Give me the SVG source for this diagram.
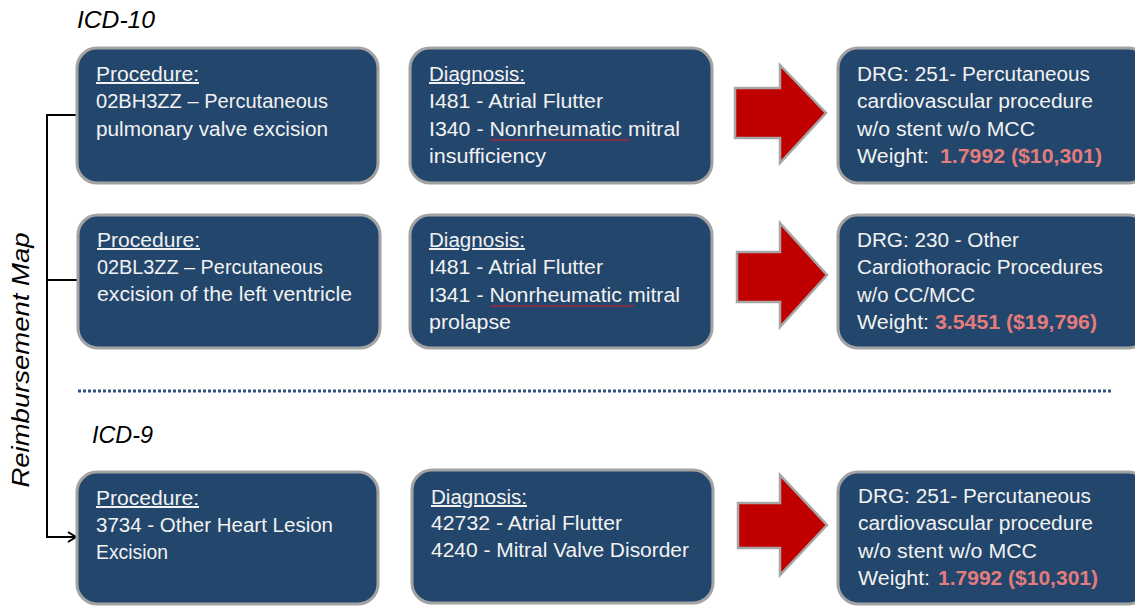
<svg xmlns="http://www.w3.org/2000/svg" width="1135" height="606" viewBox="0 0 1135 606">
<style>
.box{fill:#23466c;stroke:#a3a3a3;stroke-width:3}
.arr{fill:#c00000;stroke:#a6a6a6;stroke-width:2.5;stroke-linejoin:miter}
.t{font-family:"Liberation Sans",Arial,sans-serif;font-size:20px;fill:#f2f2f2}
.u{text-decoration:underline}
.r{fill:#e37c7c;font-weight:bold}
.h{font-family:"Liberation Sans",Arial,sans-serif;font-size:24px;font-style:italic;fill:#000}
.sq{fill:none;stroke:#d02020;stroke-width:1}
.con{fill:none;stroke:#000;stroke-width:2}
</style>
<defs>
<marker id="open" markerWidth="12" markerHeight="12" refX="10" refY="6" orient="auto" markerUnits="userSpaceOnUse">
<path d="M2,1 L10,6 L2,11" fill="none" stroke="#000" stroke-width="2"/>
</marker>
</defs>

<text class="h" x="77" y="28" textLength="78" lengthAdjust="spacingAndGlyphs">ICD-10</text>
<text class="h" x="92" y="443" textLength="61" lengthAdjust="spacingAndGlyphs">ICD-9</text>
<text class="h" transform="translate(29,360) rotate(-90)" text-anchor="middle" font-size="22" textLength="255" lengthAdjust="spacingAndGlyphs">Reimbursement Map</text>

<g id="connectors">
<path class="con" d="M77,115 H47 V537 H76" marker-end="url(#open)"/>
<path class="con" d="M47,280 H77"/>
<line x1="78" y1="391" x2="1112" y2="391" stroke="#2e5584" stroke-width="3" stroke-dasharray="3 2"/>
</g>

<g id="proc1">
<rect class="box" x="77" y="48" width="301" height="135" rx="20"/>
<text class="t u" x="96" y="81" textLength="103" lengthAdjust="spacingAndGlyphs">Procedure:</text>
<text class="t" x="96" y="108" textLength="232" lengthAdjust="spacingAndGlyphs">02BH3ZZ – Percutaneous</text>
<text class="t" x="96" y="136" textLength="232" lengthAdjust="spacingAndGlyphs">pulmonary valve excision</text>
</g>
<g id="diag1">
<rect class="box" x="410" y="48" width="302" height="135" rx="20"/>
<text class="t u" x="429" y="81" textLength="96" lengthAdjust="spacingAndGlyphs">Diagnosis:</text>
<text class="t" x="429" y="108" textLength="174" lengthAdjust="spacingAndGlyphs">I481 - Atrial Flutter</text>
<text class="t" x="429" y="136" textLength="251" lengthAdjust="spacingAndGlyphs">I340 - Nonrheumatic mitral</text>
<path class="sq" d="M490,141 l2,-2 l2,2 l2,-2 l2,2 l2,-2 l2,2 l2,-2 l2,2 l2,-2 l2,2 l2,-2 l2,2 l2,-2 l2,2 l2,-2 l2,2 l2,-2 l2,2 l2,-2 l2,2 l2,-2 l2,2 l2,-2 l2,2 l2,-2 l2,2 l2,-2 l2,2 l2,-2 l2,2 l2,-2 l2,2 l2,-2 l2,2 l2,-2 l2,2 l2,-2 l2,2 l2,-2 l2,2 l2,-2 l2,2 l2,-2 l2,2 l2,-2 l2,2 l2,-2 l2,2 l2,-2 l2,2 l2,-2 l2,2 l2,-2 l2,2 l2,-2 l2,2 l2,-2 l2,2 l2,-2 l2,2 l2,-2 l2,2 l2,-2 l2,2 l2,-2 l2,2 l2,-2 l2,2 l2,-2 l2,2"/>
<text class="t" x="429" y="163" textLength="117" lengthAdjust="spacingAndGlyphs">insufficiency</text>
</g>
<g id="arrow1">
<path class="arr" d="M735,88 H780 V65 L826,113 L780,163 V138 H735 Z"/>
</g>
<g id="drg1">
<rect class="box" x="838" y="48" width="310" height="135" rx="20"/>
<text class="t" x="857" y="81" textLength="233" lengthAdjust="spacingAndGlyphs">DRG:  251- Percutaneous</text>
<text class="t" x="857" y="108" textLength="236" lengthAdjust="spacingAndGlyphs">cardiovascular procedure</text>
<text class="t" x="857" y="136" textLength="178" lengthAdjust="spacingAndGlyphs">w/o stent w/o MCC</text>
<text class="t" x="857" y="163" textLength="72" lengthAdjust="spacingAndGlyphs">Weight:</text>
<text class="t r" x="940" y="163" textLength="162" lengthAdjust="spacingAndGlyphs">1.7992 ($10,301)</text>
</g>

<g id="proc2">
<rect class="box" x="78" y="215" width="302" height="133" rx="20"/>
<text class="t u" x="97" y="247" textLength="103" lengthAdjust="spacingAndGlyphs">Procedure:</text>
<text class="t" x="97" y="274" textLength="226" lengthAdjust="spacingAndGlyphs">02BL3ZZ – Percutaneous</text>
<text class="t" x="97" y="301" textLength="255" lengthAdjust="spacingAndGlyphs">excision of the left ventricle</text>
</g>
<g id="diag2">
<rect class="box" x="410" y="215" width="302" height="133" rx="20"/>
<text class="t u" x="429" y="247" textLength="96" lengthAdjust="spacingAndGlyphs">Diagnosis:</text>
<text class="t" x="429" y="274" textLength="174" lengthAdjust="spacingAndGlyphs">I481 - Atrial Flutter</text>
<text class="t" x="429" y="302" textLength="251" lengthAdjust="spacingAndGlyphs">I341 - Nonrheumatic mitral</text>
<path class="sq" d="M490,307 l2,-2 l2,2 l2,-2 l2,2 l2,-2 l2,2 l2,-2 l2,2 l2,-2 l2,2 l2,-2 l2,2 l2,-2 l2,2 l2,-2 l2,2 l2,-2 l2,2 l2,-2 l2,2 l2,-2 l2,2 l2,-2 l2,2 l2,-2 l2,2 l2,-2 l2,2 l2,-2 l2,2 l2,-2 l2,2 l2,-2 l2,2 l2,-2 l2,2 l2,-2 l2,2 l2,-2 l2,2 l2,-2 l2,2 l2,-2 l2,2 l2,-2 l2,2 l2,-2 l2,2 l2,-2 l2,2 l2,-2 l2,2 l2,-2 l2,2 l2,-2 l2,2 l2,-2 l2,2 l2,-2 l2,2 l2,-2 l2,2 l2,-2 l2,2 l2,-2 l2,2 l2,-2 l2,2 l2,-2 l2,2 l2,-2 l2,2"/>
<text class="t" x="429" y="329" textLength="82" lengthAdjust="spacingAndGlyphs">prolapse</text>
</g>
<g id="arrow2">
<path class="arr" d="M737,252 H780 V223 L827,275 L780,327 V302 H737 Z"/>
</g>
<g id="drg2">
<rect class="box" x="838" y="215" width="310" height="133" rx="20"/>
<text class="t" x="857" y="247" textLength="162" lengthAdjust="spacingAndGlyphs">DRG:  230 - Other</text>
<text class="t" x="857" y="274" textLength="246" lengthAdjust="spacingAndGlyphs">Cardiothoracic Procedures</text>
<text class="t" x="857" y="302" textLength="118" lengthAdjust="spacingAndGlyphs">w/o CC/MCC</text>
<text class="t" x="857" y="329" textLength="72" lengthAdjust="spacingAndGlyphs">Weight:</text>
<text class="t r" x="935" y="329" textLength="162" lengthAdjust="spacingAndGlyphs">3.5451 ($19,796)</text>
</g>

<g id="proc3">
<rect class="box" x="77" y="472" width="301" height="132" rx="20"/>
<text class="t u" x="96" y="505" textLength="103" lengthAdjust="spacingAndGlyphs">Procedure:</text>
<text class="t" x="96" y="532" textLength="237" lengthAdjust="spacingAndGlyphs">3734 - Other Heart Lesion</text>
<text class="t" x="96" y="559" textLength="72" lengthAdjust="spacingAndGlyphs">Excision</text>
</g>
<g id="diag3">
<rect class="box" x="412" y="470" width="301" height="133" rx="20"/>
<text class="t u" x="431" y="504" textLength="96" lengthAdjust="spacingAndGlyphs">Diagnosis:</text>
<text class="t" x="431" y="530" textLength="191" lengthAdjust="spacingAndGlyphs">42732 - Atrial Flutter</text>
<text class="t" x="431" y="557" textLength="258" lengthAdjust="spacingAndGlyphs">4240 - Mitral Valve Disorder</text>
</g>
<g id="arrow3">
<path class="arr" d="M738,503 H780 V475 L827,525 L780,575 V548 H738 Z"/>
</g>
<g id="drg3">
<rect class="box" x="838" y="472" width="310" height="132" rx="20"/>
<text class="t" x="858" y="503" textLength="233" lengthAdjust="spacingAndGlyphs">DRG:  251- Percutaneous</text>
<text class="t" x="858" y="530" textLength="235" lengthAdjust="spacingAndGlyphs">cardiovascular procedure</text>
<text class="t" x="858" y="558" textLength="179" lengthAdjust="spacingAndGlyphs">w/o stent w/o MCC</text>
<text class="t" x="858" y="585" textLength="72" lengthAdjust="spacingAndGlyphs">Weight:</text>
<text class="t r" x="938" y="585" textLength="160" lengthAdjust="spacingAndGlyphs">1.7992 ($10,301)</text>
</g>
</svg>
